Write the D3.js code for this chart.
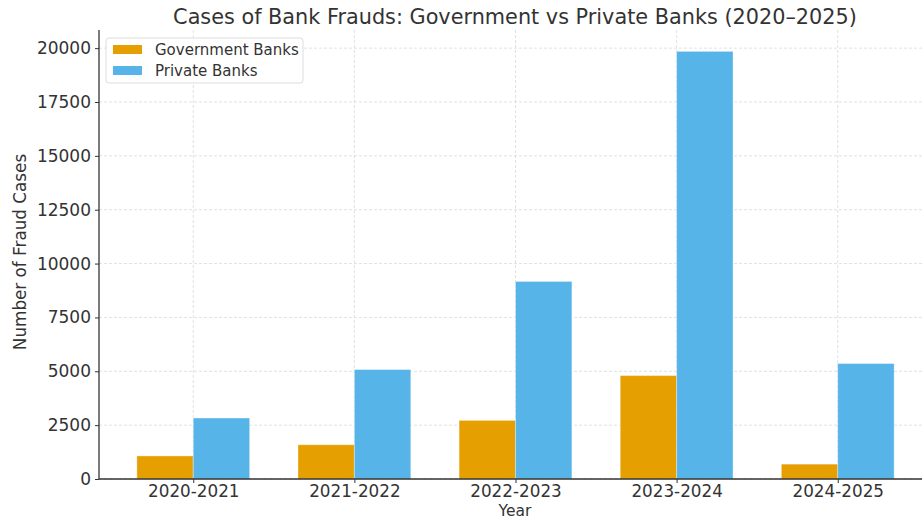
<!DOCTYPE html>
<html><head><meta charset="utf-8">
<script src="https://cdn.jsdelivr.net/npm/d3@7"></script>
<style>body{margin:0;background:#fff;} svg{display:block;font-family:"DejaVu Sans",sans-serif;}</style>
</head><body>
<script>
const categories = ["2020-2021","2021-2022","2022-2023","2023-2024","2024-2025"];
const governmentBanks = [1070, 1590, 2720, 4800, 690];
const privateBanks = [2830, 5080, 9170, 19850, 5360];
const seriesNames = ["Government Banks","Private Banks"];
const yTicks = [0,2500,5000,7500,10000,12500,15000,17500,20000];

const W=922,H=520;
const m={left:99,top:30,bottom:479,right:932};
const svg=d3.select("body").append("svg").attr("width",W).attr("height",H);
const colors=["#E69F00","#56B4E9"];
const bw=0.35;
const x=d3.scaleLinear().domain([-0.585,4.585]).range([m.left,m.right]);
const yMax=d3.max(privateBanks.concat(governmentBanks))*1.05;
const y=d3.scaleLinear().domain([0,yMax]).range([m.bottom,m.top]);

// grid
const g=svg.append("g");
g.selectAll(".hg").data(yTicks).join("line").attr("x1",m.left).attr("x2",m.right)
 .attr("y1",d=>y(d)).attr("y2",d=>y(d)).attr("stroke","#d9d9d9").attr("stroke-width",0.8).attr("stroke-dasharray","3,2");
g.selectAll(".vg").data(categories).join("line").attr("y1",m.top).attr("y2",m.bottom)
 .attr("x1",(d,i)=>x(i)).attr("x2",(d,i)=>x(i)).attr("stroke","#d9d9d9").attr("stroke-width",0.8).attr("stroke-dasharray","3,2");

// bars
const series=[governmentBanks,privateBanks];
series.forEach((vals,s)=>{
  svg.append("g").selectAll("rect").data(vals).join("rect")
   .attr("x",(d,i)=>x(i-bw+s*bw)).attr("width",x(bw)-x(0))
   .attr("y",d=>y(d)).attr("height",d=>y(0)-y(d))
   .attr("fill",colors[s]).attr("stroke","rgba(255,255,255,0.35)").attr("stroke-width",1);
});

// axes
const yAxis=d3.axisLeft(y).tickValues(yTicks).tickFormat(d=>d).tickSize(4).tickPadding(4);
const ya=svg.append("g").attr("transform",`translate(${m.left},0)`).call(yAxis);
const xAxis=d3.axisBottom(x).tickValues(d3.range(categories.length)).tickFormat(i=>categories[i]).tickSize(4).tickPadding(2);
const xa=svg.append("g").attr("transform",`translate(0,${m.bottom})`).call(xAxis);
[ya,xa].forEach(a=>{
  a.select(".domain").remove();
  a.selectAll("line").attr("stroke","#333").attr("stroke-width",1);
  a.selectAll("text").attr("fill","#333").style("font-size","17px").style("font-family","DejaVu Sans");
});
xa.selectAll("text").style("font-size","16.8px");
svg.append("line").attr("x1",m.left).attr("x2",m.left).attr("y1",m.top).attr("y2",m.bottom).attr("stroke","#333").attr("stroke-width",1.3);
svg.append("line").attr("x1",m.left).attr("x2",m.right).attr("y1",m.bottom).attr("y2",m.bottom).attr("stroke","#333").attr("stroke-width",1.3);

// titles
svg.append("text").attr("x",515).attr("y",24).attr("text-anchor","middle").attr("fill","#333")
 .style("font-size","20.8px").text("Cases of Bank Frauds: Government vs Private Banks (2020–2025)");
svg.append("text").attr("x",515).attr("y",516).attr("text-anchor","middle").attr("fill","#333")
 .style("font-size","15.5px").text("Year");
svg.append("text").attr("transform","translate(26,252) rotate(-90)").attr("text-anchor","middle").attr("fill","#333")
 .style("font-size","16.8px").text("Number of Fraud Cases");

// legend
const lg=svg.append("g").attr("transform","translate(106,38)");
lg.append("rect").attr("width",197).attr("height",45).attr("rx",3).attr("fill","rgba(255,255,255,0.85)").attr("stroke","#ddd");
seriesNames.forEach((n,i)=>{
  lg.append("rect").attr("x",7).attr("y",7+i*21).attr("width",29).attr("height",9).attr("fill",colors[i]);
  lg.append("text").attr("x",49).attr("y",17+i*21).attr("fill","#333").style("font-size","15px").text(n);
});
</script>
</body></html>
